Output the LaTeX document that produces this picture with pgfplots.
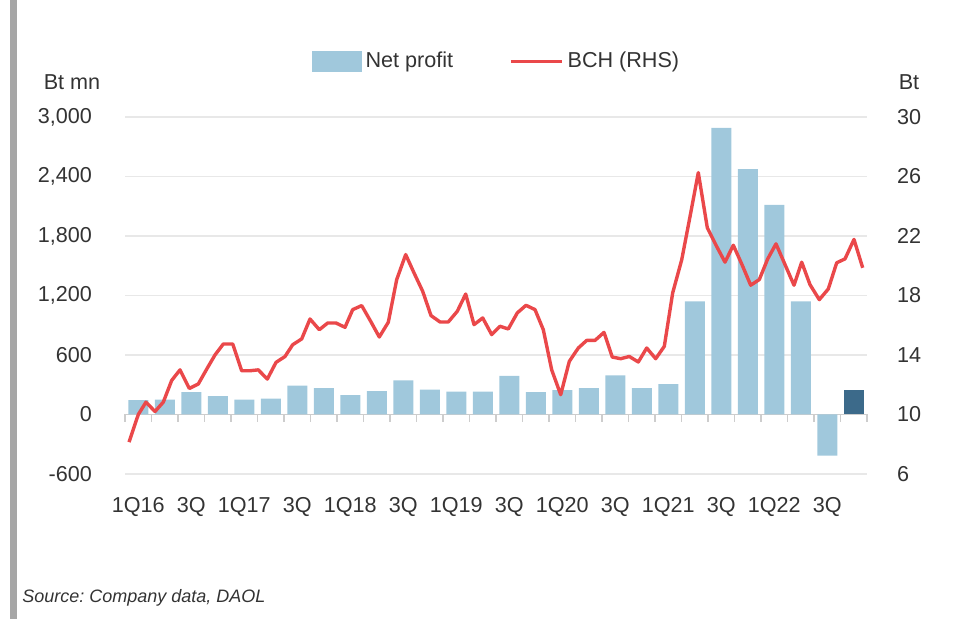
\documentclass[border=0pt]{standalone}
\usepackage{pgfplots}
\pgfplotsset{compat=1.18}
\usepackage{fontspec}
\setmainfont{Liberation Sans}
\frenchspacing
\definecolor{barblue}{RGB}{160,200,220}
\definecolor{bardark}{RGB}{60,106,138}
\definecolor{linered}{RGB}{234,72,74}
\definecolor{gridgrey}{RGB}{232,232,232}
\definecolor{tickgrey}{RGB}{205,205,205}
\definecolor{txt}{RGB}{51,51,51}
\newcommand{\lblfont}{\fontsize{10.8}{12.5}\selectfont}

\pgfplotstableread{
x y
0.5 145
1.5 150
2.5 225
3.5 185
4.5 150
5.5 160
6.5 290
7.5 265
8.5 195
9.5 235
10.5 345
11.5 250
12.5 230
13.5 230
14.5 390
15.5 225
16.5 245
17.5 265
18.5 395
19.5 265
20.5 305
21.5 1140
22.5 2890
23.5 2475
24.5 2115
25.5 1140
26.5 -415
}\netprofit

\pgfplotstableread{
x y
27.5 250
}\netprofitlast

\pgfplotstableread{
x y
0.151 8.14
0.502 10.00
0.792 10.83
1.132 10.20
1.445 10.83
1.762 12.29
2.075 13.00
2.426 11.75
2.766 12.05
3.106 13.12
3.396 14.00
3.709 14.74
4.064 14.74
4.404 12.94
4.717 12.94
5.030 13.00
5.370 12.38
5.698 13.50
6.038 13.90
6.328 14.69
6.668 15.08
6.981 16.42
7.332 15.70
7.649 16.15
7.962 16.15
8.302 15.86
8.592 17.05
8.932 17.32
9.272 16.26
9.596 15.21
9.936 16.20
10.253 19.07
10.592 20.75
10.906 19.52
11.234 18.28
11.547 16.65
11.887 16.22
12.200 16.22
12.540 16.94
12.857 18.10
13.170 16.04
13.498 16.49
13.838 15.37
14.151 15.93
14.464 15.75
14.804 16.83
15.132 17.34
15.472 17.05
15.785 15.70
16.102 13.00
16.442 11.33
16.766 13.57
17.106 14.47
17.423 14.98
17.736 14.98
18.075 15.52
18.389 13.86
18.706 13.75
19.030 13.90
19.370 13.53
19.687 14.47
20.026 13.75
20.351 14.58
20.668 18.18
21.008 20.40
21.321 23.30
21.634 26.26
21.974 22.55
22.302 21.38
22.642 20.24
22.955 21.38
23.294 20.03
23.611 18.69
23.936 19.07
24.253 20.46
24.566 21.47
24.906 20.08
25.245 18.69
25.536 20.24
25.849 18.73
26.200 17.72
26.540 18.44
26.857 20.20
27.170 20.46
27.509 21.77
27.838 19.86
}\bch

\begin{document}
\begin{tikzpicture}
\path[use as bounding box] (0pt,0pt) rectangle (480pt,309.5pt);
\fill[black!35] (5pt,0pt) rectangle (8.5pt,309.5pt);

\begin{axis}[
  at={(62.5pt,72.5pt)}, anchor=south west, scale only axis,
  width=371pt, height=178.5pt,
  xmin=0, xmax=28, ymin=-600, ymax=3000,
  ytick={-600,0,600,1200,1800,2400,3000},
  yticklabels={-600,0,600,{1,200},{1,800},{2,400},{3,000}},
  xtick={0.5,2.5,...,26.5},
  xticklabels={1Q16,3Q,1Q17,3Q,1Q18,3Q,1Q19,3Q,1Q20,3Q,1Q21,3Q,1Q22,3Q},
  ymajorgrids, grid style={gridgrey, line width=0.8pt},
  axis line style={draw=none}, major tick length=0pt, tick style={draw=none},
  ticklabel style={font=\lblfont, text=txt},
  yticklabel style={anchor=east, xshift=-13pt},
  xticklabel style={yshift=-8pt},
  clip=false,
]
\draw[tickgrey, line width=0.8pt] (axis cs:0,0) -- (axis cs:28,0);
\pgfplotsinvokeforeach{0,...,28}{\draw[tickgrey, line width=0.8pt] (axis cs:#1,0) -- ++(0pt,-4pt);}
\addplot[ybar, bar width=10pt, bar shift=0pt, fill=barblue, draw=none] table[x=x,y=y] {\netprofit};
\addplot[ybar, bar width=10pt, bar shift=0pt, fill=bardark, draw=none] table[x=x,y=y] {\netprofitlast};
\end{axis}

\begin{axis}[
  at={(62.5pt,72.5pt)}, anchor=south west, scale only axis,
  width=371pt, height=178.5pt,
  xmin=0, xmax=28, ymin=6, ymax=30,
  axis y line*=right, axis x line=none,
  ytick={6,10,14,18,22,26,30},
  yticklabels={6,10,14,18,22,26,30},
  axis line style={draw=none}, major tick length=0pt, tick style={draw=none},
  ticklabel style={font=\lblfont, text=txt},
  yticklabel style={anchor=west, xshift=11.5pt},
  legend style={at={(axis description cs:0.502,1.155)}, anchor=center,
    draw=none, fill=none, legend columns=2, font=\lblfont, text=txt,
    /tikz/every even column/.append style={column sep=26pt}},
  clip=false,
]
\addlegendimage{legend image code/.code={\fill[barblue] (0pt,-5pt) rectangle (24.5pt,5pt);}}
\addlegendentry{Net profit}
\addplot[linered, line width=1.7pt, line join=round,
  legend image code/.code={\draw[linered, line width=1.7pt] (0pt,0pt) -- (25.5pt,0pt);}]
  table[x=x,y=y] {\bch};
\addlegendentry{BCH (RHS)}
\end{axis}

\node[font=\lblfont, text=txt] at (36pt,268.25pt) {Bt mn};
\node[font=\lblfont, text=txt] at (454.5pt,268.25pt) {Bt};
\node[font=\fontsize{9}{11}\selectfont\itshape, text=txt, anchor=west, inner sep=0pt] at (11pt,10.5pt) {Source: Company data, DAOL};
\end{tikzpicture}
\end{document}
